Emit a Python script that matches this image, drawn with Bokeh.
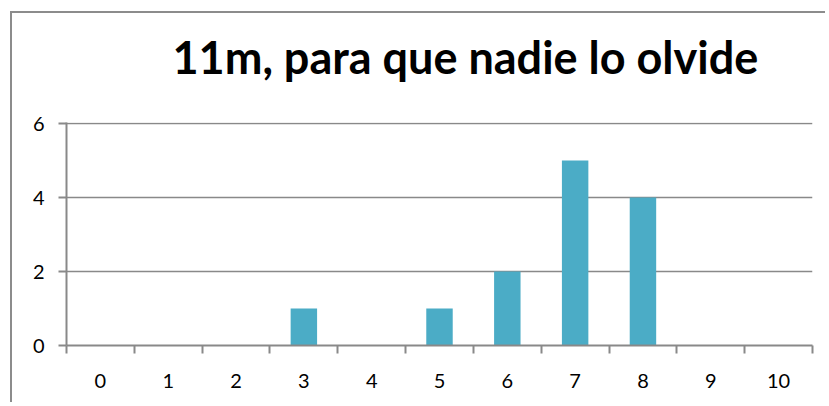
from bokeh.plotting import figure
from bokeh.models import Range1d, FixedTicker, Title
from bokeh.embed import file_html
from bokeh.resources import INLINE

title_text = "11m, para que nadie lo olvide"
categories = [0, 1, 2, 3, 4, 5, 6, 7, 8, 9, 10]
counts = [0, 0, 0, 1, 0, 1, 2, 5, 4, 0, 0]
y_ticks = [0, 2, 4, 6]

BAR = "#4BACC6"
GRID = "#898989"
FONT = "Lato"

p = figure(width=815, height=391, output_backend="svg", toolbar_location=None,
           x_range=Range1d(categories[0] - 0.5, categories[-1] + 0.5),
           y_range=Range1d(0, 6.03),
           min_border_left=54, min_border_right=15,
           min_border_top=109, min_border_bottom=59)
p.styles = {"margin-left": "10px", "margin-top": "11px",
            "border-left": "2px solid #8c8c8c", "border-top": "2px solid #8c8c8c"}
p.outline_line_color = None
p.background_fill_color = "white"
p.border_fill_color = "white"

p.vbar(x=categories, top=counts, width=0.39, fill_color=BAR, line_color=None)

p.xgrid.visible = False
p.ygrid.ticker = FixedTicker(ticks=y_ticks)
p.ygrid.grid_line_color = GRID
p.ygrid.grid_line_width = 1.6

xa = p.xaxis[0]
xa.ticker = FixedTicker(ticks=categories,
                        minor_ticks=[c - 0.5 for c in categories] + [categories[-1] + 0.5])
xa.axis_line_color = GRID
xa.axis_line_width = 2
xa.major_tick_out = 0
xa.major_tick_in = 0
xa.minor_tick_out = 8
xa.minor_tick_in = 0
xa.minor_tick_line_color = GRID
xa.minor_tick_line_width = 2
xa.major_label_standoff = 20
xa.major_label_text_font = FONT
xa.major_label_text_font_size = "20px"
xa.major_label_text_color = "black"

ya = p.yaxis[0]
ya.ticker = FixedTicker(ticks=y_ticks)
ya.axis_line_color = GRID
ya.axis_line_width = 2
ya.major_tick_out = 8
ya.major_tick_in = 0
ya.major_tick_line_color = GRID
ya.major_tick_line_width = 2
ya.minor_tick_out = 0
ya.minor_tick_in = 0
ya.major_label_standoff = 14
ya.major_label_text_font = FONT
ya.major_label_text_font_size = "20px"
ya.major_label_text_color = "black"

# spacer between the frame and the main title
p.add_layout(Title(text=" ", text_font_size="10px", standoff=26), "above")
p.add_layout(Title(text=title_text, align="left", offset=106, standoff=0,
                   text_font=FONT, text_font_style="bold", text_font_size="45px",
                   text_color="black"), "above")

open("out.html", "w").write(file_html(p, INLINE))
